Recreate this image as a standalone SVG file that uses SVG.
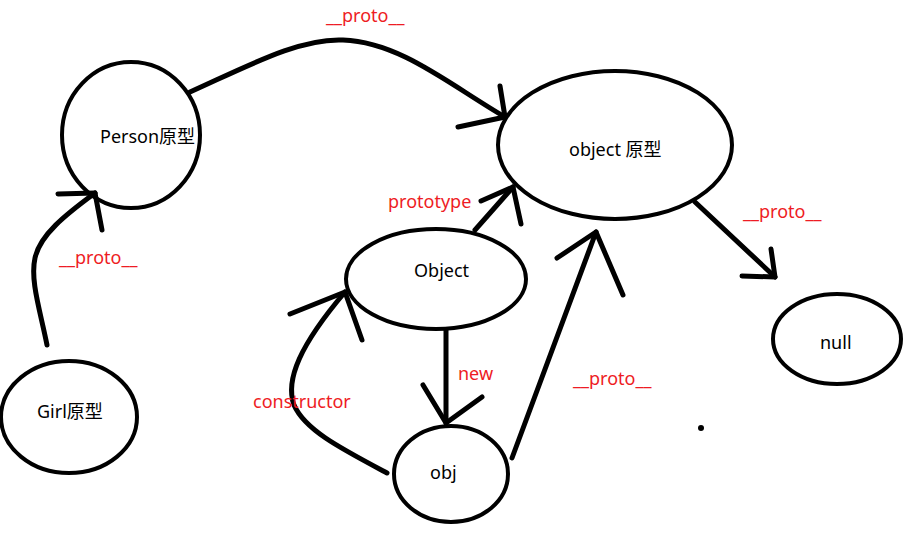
<svg xmlns="http://www.w3.org/2000/svg" width="918" height="553" viewBox="0 0 918 553">
<style>
.n{fill:none;stroke:#000;stroke-width:4}
.c{fill:none;stroke:#000;stroke-width:5;stroke-linecap:round;stroke-linejoin:round}
.t{font-family:"Noto Sans","Noto Sans CJK SC",sans-serif;font-size:18px;fill:#000}
.r{font-family:"Noto Sans","Noto Sans CJK SC",sans-serif;font-size:18px;fill:#ee1c24}
</style>
<rect width="918" height="553" fill="#fff"/>
<g id="connectors">
<path class="c" d="M190,92 C250,65 300,38 343,40 C400,42 450,85 505,117"/>
<path class="c" d="M500,86 L505,117 L458,127"/>
<path class="c" d="M47,345 C40,310 30,280 35,258 C40,235 65,215 95,193"/>
<path class="c" d="M58,194 L95,193 L102,230"/>
<path class="c" d="M475,230 L513,187"/>
<path class="c" d="M481,201 L513,187 L521,224"/>
<path class="c" d="M446,330 L446,423"/>
<path class="c" d="M423,385 L446,423 L482,397"/>
<path class="c" d="M387,473 C340,448 305,430 294,405 C285,380 300,345 345,292"/>
<path class="c" d="M290,314 L345,292 L362,340"/>
<path class="c" d="M512,458 L596,232"/>
<path class="c" d="M557,258 L596,232 L623,295"/>
<path class="c" d="M695,202 L775,277"/>
<path class="c" d="M771,249 L775,277 L742,276"/>
</g>
<g id="labels">
<text class="r" x="326" y="22">__proto__</text>
<text class="r" x="59" y="264">__proto__</text>
<text class="r" x="388" y="208">prototype</text>
<text class="r" x="743" y="218">__proto__</text>
<text class="r" x="458" y="380">new</text>
<text class="r" x="253" y="408">constructor</text>
<text class="r" x="573" y="385">__proto__</text>
</g>
<g id="person"><ellipse class="n" cx="131" cy="135" rx="69" ry="73"/><text class="t" x="100" y="143">Person原型</text></g>
<g id="objectProto"><ellipse class="n" cx="615" cy="145" rx="117" ry="74"/><text class="t" x="569" y="156">object 原型</text></g>
<g id="girl"><ellipse class="n" cx="69" cy="417" rx="68" ry="56"/><text class="t" x="37" y="418">Girl原型</text></g>
<g id="Object"><ellipse class="n" cx="436" cy="279" rx="90" ry="50"/><text class="t" x="414" y="277">Object</text></g>
<g id="obj"><ellipse class="n" cx="451" cy="474" rx="57" ry="48"/><text class="t" x="430" y="479">obj</text></g>
<g id="null"><ellipse class="n" cx="837" cy="339" rx="64" ry="45"/><text class="t" x="820" y="349">null</text></g>
<circle cx="701" cy="428" r="3" fill="#000"/>
</svg>
